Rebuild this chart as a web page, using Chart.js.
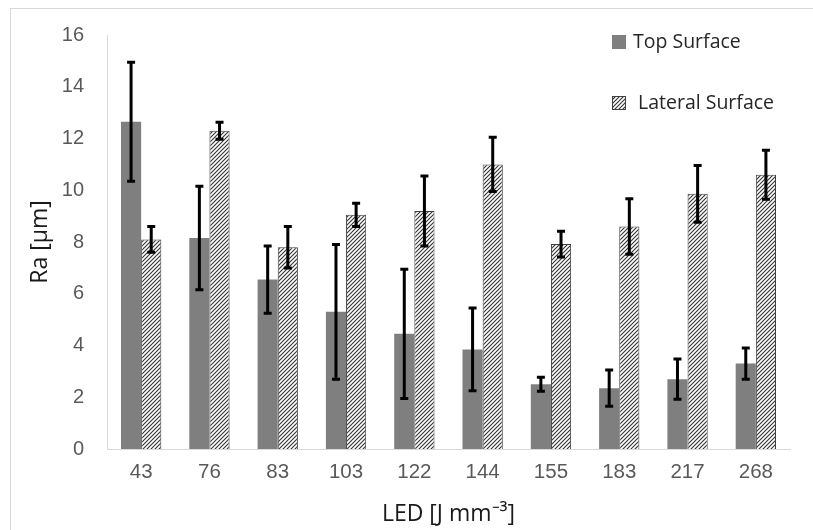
<!DOCTYPE html>
<html>
<head>
<meta charset="utf-8">
<script src="https://cdn.jsdelivr.net/npm/chart.js@4.4.1/dist/chart.umd.min.js"></script>
<style>
  html, body { margin: 0; padding: 0; background: #fff; }
  #wrap { position: relative; width: 813px; height: 530px; overflow: hidden; }
  #frame { position: absolute; left: 10px; top: 8px; width: 900px; height: 600px;
           border-left: 1px solid #d9d9d9; border-top: 1px solid #d9d9d9; }
  canvas { position: absolute; left: 0; top: 0; }
</style>
</head>
<body>
<div id="wrap">
  <div id="frame"></div>
  <canvas id="myChart" width="813" height="530"></canvas>
</div>
<script>
const categories = ['43', '76', '83', '103', '122', '144', '155', '183', '217', '268'];
const topSurface = [12.65, 8.15, 6.55, 5.3, 4.45, 3.85, 2.5, 2.35, 2.7, 3.3];
const topError = [2.3, 2.0, 1.3, 2.6, 2.5, 1.6, 0.27, 0.7, 0.78, 0.6];
const lateralSurface = [8.1, 12.3, 7.8, 9.05, 9.2, 11.0, 7.92, 8.6, 9.86, 10.6];
const lateralError = [0.5, 0.33, 0.8, 0.45, 1.35, 1.05, 0.5, 1.07, 1.1, 0.95];
const errors = [topError, lateralError];

// hatch pattern for the lateral bars
function makeHatch() {
	const size = 4;
	const c = document.createElement('canvas');
	c.width = size;
	c.height = size;
	const g = c.getContext('2d');
	g.fillStyle = '#ffffff';
	g.fillRect(0, 0, size, size);
	g.strokeStyle = '#333333';
	g.lineWidth = 1.1;
	g.beginPath();
	g.moveTo(-1, size + 1); g.lineTo(size + 1, -1);
	g.moveTo(-1, 1); g.lineTo(1, -1);
	g.moveTo(size - 1, size + 1); g.lineTo(size + 1, size - 1);
	g.stroke();
	return g.createPattern(c, 'repeat');
}
const hatch = makeHatch();

const errorBars = {
	id: 'errorBars',
	afterDatasetsDraw(chart) {
		const ctx = chart.ctx;
		const y = chart.scales.y;
		ctx.save();
		ctx.strokeStyle = '#000';
		chart.data.datasets.forEach((ds, i) => {
			const meta = chart.getDatasetMeta(i);
			meta.data.forEach((bar, j) => {
				const v = ds.data[j];
				const e = errors[i][j];
				const yTop = y.getPixelForValue(v + e);
				const yBot = y.getPixelForValue(v - e);
				ctx.lineWidth = 3;
				ctx.beginPath();
				ctx.moveTo(bar.x, yTop);
				ctx.lineTo(bar.x, yBot);
				ctx.moveTo(bar.x - 4, yTop);
				ctx.lineTo(bar.x + 4, yTop);
				ctx.moveTo(bar.x - 4, yBot);
				ctx.lineTo(bar.x + 4, yBot);
				ctx.stroke();
			});
		});
		ctx.restore();
	}
};

const customLegend = {
	id: 'customLegend',
	afterDraw(chart) {
		const ctx = chart.ctx;
		const area = chart.chartArea;
		const x0 = area.right - 178;
		const rows = [area.top + 7, area.top + 68];
		ctx.save();
		ctx.font = '19.5px "Open Sans"';
		ctx.textBaseline = 'middle';
		chart.data.datasets.forEach((ds, i) => {
			const yc = rows[i];
			ctx.fillStyle = ds.backgroundColor;
			ctx.fillRect(x0, yc - 7, 14, 14);
			if (ds.borderWidth) {
				ctx.strokeStyle = ds.borderColor;
				ctx.lineWidth = 1;
				ctx.strokeRect(x0 + 0.5, yc - 6.5, 13, 13);
			}
			ctx.fillStyle = '#262626';
			ctx.fillText(ds.label, x0 + 21 + i * 5, yc);
		});
		ctx.restore();
	}
};

new Chart(document.getElementById('myChart'), {
	type: 'bar',
	data: {
		labels: categories,
		datasets: [{
			label: 'Top Surface',
			data: topSurface,
			backgroundColor: '#7f7f7f',
			borderWidth: 0
		}, {
			label: 'Lateral Surface',
			data: lateralSurface,
			backgroundColor: hatch,
			borderColor: '#404040',
			borderWidth: 1
		}]
	},
	options: {
		responsive: false,
		animation: false,
		layout: { padding: { top: 33, right: 23, left: 0, bottom: 0 } },
		plugins: { legend: { display: false }, tooltip: { enabled: false } },
		datasets: { bar: { categoryPercentage: 0.59, barPercentage: 1.0 } },
		scales: {
			x: {
				grid: { display: false, drawTicks: false },
				border: { display: true, color: '#d9d9d9', width: 1 },
				ticks: { color: '#595959', font: { family: 'Liberation Sans', size: 20.5 }, padding: 11, maxRotation: 0 },
				title: { display: true, text: 'LED [J mm⁻³]', color: '#1a1a1a',
					font: { family: 'Open Sans', size: 23 }, padding: { top: 4, bottom: 2 } },
				afterFit(scale) { scale.height = 81; }
			},
			y: {
				min: 0,
				max: 16,
				grid: { display: false, drawTicks: false },
				border: { display: true, color: '#d9d9d9', width: 1 },
				ticks: { stepSize: 2, color: '#595959', font: { family: 'Liberation Sans', size: 20 }, padding: 23 },
				title: { display: true, text: 'Ra [µm]', color: '#1a1a1a',
					font: { family: 'Open Sans', size: 23 }, padding: { top: 27, bottom: 0 } },
				afterFit(scale) { scale.width = 107; }
			}
		}
	},
	plugins: [errorBars, customLegend]
});
</script>
</body>
</html>
